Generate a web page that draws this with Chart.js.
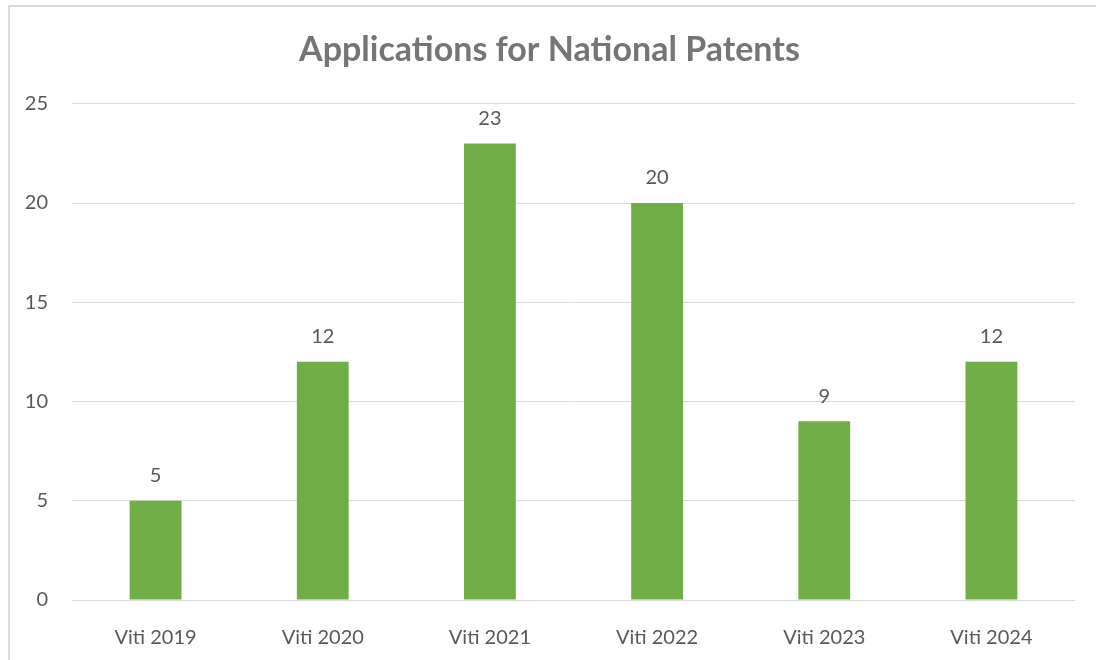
<!DOCTYPE html>
<html>
<head>
<meta charset="utf-8">
<script src="https://cdn.jsdelivr.net/npm/chart.js@4.4.1/dist/chart.umd.min.js"></script>
<style>
  html, body { margin: 0; padding: 0; background: #fff; }
  #wrap { position: relative; width: 1096px; height: 660px; }
  #frame { position: absolute; left: 8px; top: 5px; right: 0; bottom: -5px; border-top: 2px solid #d9d9d9; border-left: 2px solid #d9d9d9; }
  canvas { position: absolute; left: 0; top: 0; }
</style>
</head>
<body>
<div id="wrap">
  <div id="frame"></div>
  <canvas id="patentChart" width="1096" height="660"></canvas>
</div>
<script>
const categories = ["Viti 2019", "Viti 2020", "Viti 2021", "Viti 2022", "Viti 2023", "Viti 2024"];
const applications = [5, 12, 23, 20, 9, 12];
const yTicks = [0, 5, 10, 15, 20, 25];

const fontFamily = "Lato, 'Open Sans', sans-serif";
const textColor = "#595959";

// Draw the value above each bar
const valueLabels = {
  id: "valueLabels",
  afterDatasetsDraw(chart) {
    const ctx = chart.ctx;
    const meta = chart.getDatasetMeta(0);
    ctx.save();
    ctx.font = "20px " + fontFamily;
    ctx.fillStyle = textColor;
    ctx.textAlign = "center";
    ctx.textBaseline = "middle";
    meta.data.forEach((bar, i) => {
      ctx.fillText(chart.data.datasets[0].data[i], bar.x, bar.y - 25);
    });
    ctx.restore();
  }
};

new Chart(document.getElementById("patentChart"), {
  type: "bar",
  data: {
    labels: categories,
    datasets: [{
      label: "Applications",
      data: applications,
      backgroundColor: "#70ad47",
      categoryPercentage: 1,
      barPercentage: 0.31
    }]
  },
  options: {
    responsive: false,
    animation: false,
    layout: { padding: { left: 24, right: 21, top: 5, bottom: 10 } },
    plugins: {
      legend: { display: false },
      tooltip: { enabled: false },
      title: {
        display: true,
        text: "Applications for National Patents",
        color: "#757575",
        font: { family: fontFamily, size: 34, weight: "bold" },
        padding: { top: 25, bottom: 33 }
      }
    },
    scales: {
      x: {
        grid: { display: false },
        border: { display: false },
        ticks: { color: textColor, font: { family: fontFamily, size: 20 }, padding: 18 },
        afterFit(scale) { scale.height = 50; }
      },
      y: {
        min: 0,
        max: 25,
        afterBuildTicks(scale) { scale.ticks = yTicks.map(v => ({ value: v })); },
        grid: { color: "#d9d9d9", lineWidth: 1, drawTicks: false },
        border: { display: false },
        ticks: { color: textColor, font: { family: fontFamily, size: 20 }, padding: 24 },
        afterFit(scale) { scale.width = 48; }
      }
    }
  },
  plugins: [valueLabels]
});
</script>
</body>
</html>
